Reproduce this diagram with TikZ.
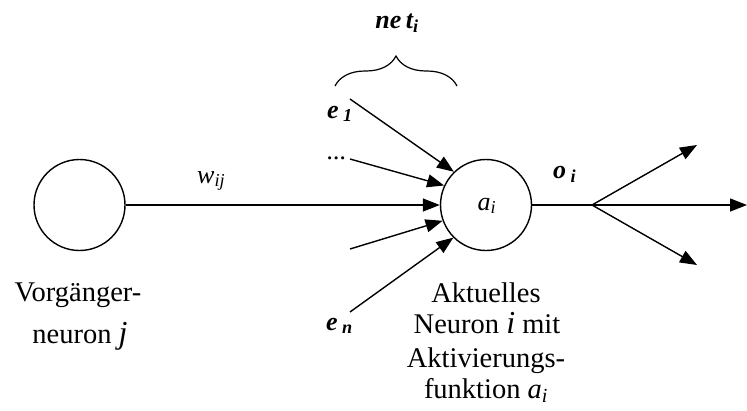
\documentclass[tikz,border=0pt]{standalone}
\usepackage{fontspec}
\setmainfont{Liberation Serif}
\usetikzlibrary{arrows.meta,decorations.pathreplacing}
\newcommand\sbs[1]{\textsubscript{#1}}
\begin{document}
\begin{tikzpicture}[x=1pt,y=-1pt,
  neuron/.style={circle,draw,line width=1.4pt,minimum size=91pt,inner sep=0pt},
  conn/.style={line width=1.4pt},
  arr/.style={conn,-{Triangle[length=17pt,width=13pt]}},
  txt/.style={font=\fontsize{28.5}{32}\selectfont,anchor=base,inner sep=0pt},
  lab/.style={font=\fontsize{26}{30}\selectfont\itshape,anchor=base west,inner sep=0pt},
  blab/.style={lab,font=\fontsize{26}{30}\selectfont\itshape\bfseries}]
\useasboundingbox (0,0) rectangle (747,410);
\node[neuron] (J) at (79.5,205) {};
\node[neuron] (I) at (486,205) {};
\node[font=\fontsize{26}{30}\selectfont\itshape,anchor=base,inner sep=0pt] (ai) at (487,210) {a\sbs{i}};
% inputs
\coordinate (s1) at (350,99);
\coordinate (s2) at (350,159);
\coordinate (s4) at (350,249);
\coordinate (s5) at (350,312);
\draw[arr] (s1) -- (I.134);
\draw[arr] (s2) -- (I.155);
\draw[arr] (J) -- (I);
\draw[arr] (s4) -- (I.200);
\draw[arr] (s5) -- (I.225);
% outputs
\coordinate (B) at (592,205);
\coordinate (t1) at (697,145);
\coordinate (t2) at (747,205);
\coordinate (t3) at (697,265);
\draw[conn] (I) -- (B);
\draw[arr] (B) -- (t1);
\draw[arr] (B) -- (t2);
\draw[arr] (B) -- (t3);
% brace
\coordinate (bl) at (335,86);
\coordinate (br) at (457,86);
\draw[line width=1.2pt,decorate,decoration={brace,amplitude=30pt}] (bl) -- (br);
% labels
\node[blab,anchor=base] (net) at (397,28) {ne\,t\sbs{i}};
\node[blab] (e1) at (327,118) {e\,\sbs{1}};
\node[lab] (dots) at (327,159) {...};
\node[lab] (w) at (197,183) {w\sbs{ij}};
\node[blab] (o) at (553,178) {o\,\sbs{i}};
\node[blab] (en) at (326,330) {e\,\sbs{n}};
% texts
\node[txt] (v1) at (78,301) {Vorgänger-};
\node[txt] (v2) at (80,343) {neuron {\fontsize{32}{32}\selectfont\itshape j}};
\node[txt] (a1) at (486,302) {Aktuelles};
\node[txt] (a2) at (487,333) {Neuron {\fontsize{32}{32}\selectfont\itshape i} mit};
\node[txt] (a3) at (486,367) {Aktivierungs-};
\node[txt] (a4) at (486,398) {funktion {\itshape a\sbs{i}}};
\end{tikzpicture}
\end{document}
